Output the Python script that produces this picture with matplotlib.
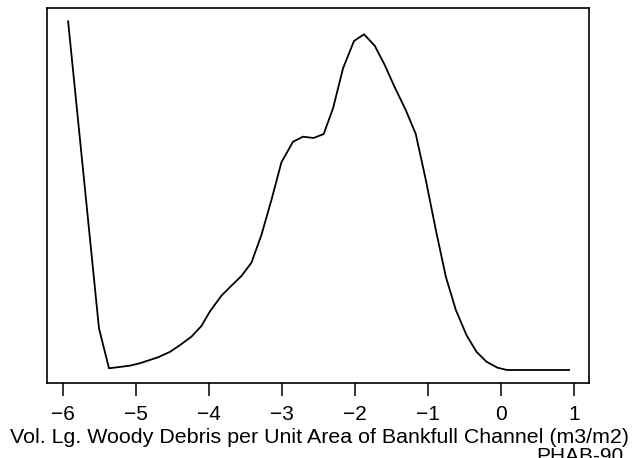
import matplotlib
matplotlib.use("Agg")
import matplotlib.pyplot as plt

plt.rcParams['font.family'] = ['Liberation Sans', 'DejaVu Sans']

# density curve
x_vals = [-5.93, -5.507, -5.37, -5.086, -4.949, -4.699, -4.538, -4.401, -4.241,
          -4.104, -3.99, -3.83, -3.693, -3.556, -3.419, -3.282, -3.145, -3.008,
          -2.849, -2.712, -2.566, -2.429, -2.301, -2.164, -2.014, -1.877, -1.73,
          -1.593, -1.456, -1.305, -1.168, -1.03, -0.893, -0.756, -0.619, -0.474,
          -0.337, -0.2, -0.049, 0.082, 0.932]
density = [0.3617, 0.0547, 0.0147, 0.0173, 0.0197, 0.0257, 0.031, 0.0377, 0.0463,
           0.057, 0.0713, 0.0873, 0.0973, 0.107, 0.1203, 0.148, 0.183, 0.2207,
           0.2413, 0.2463, 0.245, 0.249, 0.2747, 0.3147, 0.342, 0.3487, 0.3373,
           0.318, 0.2957, 0.273, 0.249, 0.203, 0.153, 0.1063, 0.073, 0.048,
           0.0313, 0.0213, 0.0153, 0.013, 0.013]
x_ticks = [-6, -5, -4, -3, -2, -1, 0, 1]
x_label = "Vol. Lg. Woody Debris per Unit Area of Bankfull Channel (m3/m2)"
tag = "PHAB-90"

fig = plt.figure(figsize=(6.33, 4.58), dpi=100)
ax = fig.add_axes([47 / 633, 75 / 458, 542 / 633, 375 / 458])
ax.plot(x_vals, density, color='black', linewidth=1.3)

ax.set_xlim(-6.219, 1.205)
ax.set_ylim(0, 0.375)
ax.set_yticks([])
ax.set_xticks(x_ticks)
ax.set_xticklabels([str(t).replace('-', '\u2212') for t in x_ticks])
ax.tick_params(axis='x', direction='out', length=9.5, width=1.1, pad=6, labelsize=15)
for s in ax.spines.values():
    s.set_linewidth(1.2)

fig.text(320 / 633, 1 - 428 / 458, x_label, ha='center', va='top', fontsize=15.4)
fig.text(623 / 633, 1 - 447 / 458, tag, ha='right', va='top', fontsize=15)

fig.savefig("out.png", dpi=100)
